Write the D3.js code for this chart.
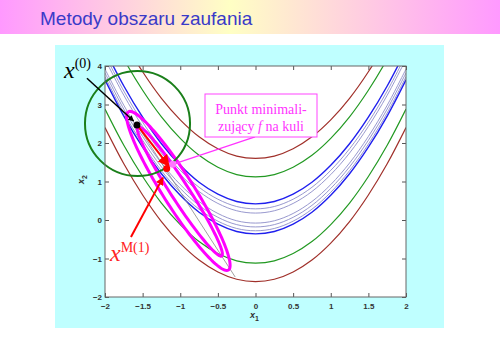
<!DOCTYPE html>
<html>
<head>
<meta charset="utf-8">
<script src="https://cdn.jsdelivr.net/npm/d3@7"></script>
<style>
  body { margin: 0; background: #fff; }
  svg { display: block; }
</style>
</head>
<body>
<div id="chart"></div>
<script>
// grid of x1 values the contour lines were read at
var x1Grid = [-2, -1.75, -1.5, -1.25, -1, -0.75, -0.5, -0.25, 0, 0.25, 0.5, 0.75, 1, 1.25, 1.5, 1.75, 2];

// contour lines, x2 value at each x1 of the grid
var brownTop   = [5.6, 4.66, 3.85, 3.16, 2.6, 2.16, 1.85, 1.66, 1.6, 1.66, 1.85, 2.16, 2.6, 3.16, 3.85, 4.66, 5.6];
var greenTop   = [5.12, 4.18, 3.37, 2.68, 2.12, 1.68, 1.37, 1.18, 1.12, 1.18, 1.37, 1.68, 2.12, 2.68, 3.37, 4.18, 5.12];
var blueTop    = [4.42, 3.48, 2.67, 1.98, 1.42, 0.98, 0.67, 0.48, 0.42, 0.48, 0.67, 0.98, 1.42, 1.98, 2.67, 3.48, 4.42];
var thin1      = [4.29, 3.35, 2.54, 1.85, 1.29, 0.85, 0.54, 0.35, 0.29, 0.35, 0.54, 0.85, 1.29, 1.85, 2.54, 3.35, 4.29];
var thin2      = [4.18, 3.24, 2.43, 1.74, 1.18, 0.74, 0.43, 0.24, 0.18, 0.24, 0.43, 0.74, 1.18, 1.74, 2.43, 3.24, 4.18];
var thin3      = [3.92, 2.98, 2.17, 1.48, 0.92, 0.48, 0.17, -0.02, -0.08, -0.02, 0.17, 0.48, 0.92, 1.48, 2.17, 2.98, 3.92];
var thin4      = [3.82, 2.88, 2.07, 1.38, 0.82, 0.38, 0.07, -0.12, -0.18, -0.12, 0.07, 0.38, 0.82, 1.38, 2.07, 2.88, 3.82];
var thin5      = [3.72, 2.78, 1.97, 1.28, 0.72, 0.28, -0.03, -0.22, -0.28, -0.22, -0.03, 0.28, 0.72, 1.28, 1.97, 2.78, 3.72];
var blueBot    = [3.64, 2.70, 1.89, 1.20, 0.64, 0.20, -0.11, -0.30, -0.36, -0.30, -0.11, 0.20, 0.64, 1.20, 1.89, 2.70, 3.64];
var greenBot   = [2.88, 1.94, 1.13, 0.44, -0.12, -0.56, -0.87, -1.06, -1.12, -1.06, -0.87, -0.56, -0.12, 0.44, 1.13, 1.94, 2.88];
var brownBot   = [2.4, 1.46, 0.65, -0.04, -0.6, -1.04, -1.35, -1.54, -1.6, -1.54, -1.35, -1.04, -0.6, -0.04, 0.65, 1.46, 2.4];

var xTicks = [-2, -1.5, -1, -0.5, 0, 0.5, 1, 1.5, 2];
var yTicks = [-2, -1, 0, 1, 2, 3, 4];

// points (x1, x2)
var x0 = [-1.575, 2.47];        // starting point x(0)
var xM1 = [-1.18, 1.34];        // model step point
var xBall = [-1.10, 1.45];      // minimiser of f on the ball
var gridLine = [[-1.575, 2.47], [-0.27, -1.48]];

// trust region ball: centre, radius along x1 and x2
var ballCentre = [-1.568, 2.506];
var ballRadius = [0.698, 1.364];

// model contours: centre, major half axis vector, minor half axis vector
var ellipses = [
  { c: [-1.025, 0.755], u: [-0.665, 2.055], v: [0.175, 0.215] },
  { c: [-1.005, 0.74],  u: [-0.556, 1.675], v: [0.101, 0.125] }
];

var contours = [
  { v: brownTop, color: "#a0302a", w: 1.2 },
  { v: brownBot, color: "#a0302a", w: 1.2 },
  { v: greenTop, color: "#229922", w: 1.2 },
  { v: greenBot, color: "#229922", w: 1.2 },
  { v: thin1, color: "#8c8cc8", w: 0.9 },
  { v: thin2, color: "#8c8cc8", w: 0.9 },
  { v: thin3, color: "#8c8cc8", w: 0.9 },
  { v: thin4, color: "#8c8cc8", w: 0.9 },
  { v: thin5, color: "#8c8cc8", w: 0.9 },
  { v: blueTop, color: "#1f1fee", w: 1.4 },
  { v: blueBot, color: "#1f1fee", w: 1.4 }
];

var W = 500, H = 352;
var svg = d3.select("#chart").append("svg").attr("width", W).attr("height", H);

// title band
var grad = svg.append("defs").append("linearGradient").attr("id", "band");
grad.append("stop").attr("offset", "0%").attr("stop-color", "#ff99ff");
grad.append("stop").attr("offset", "46%").attr("stop-color", "#ffffc4");
grad.append("stop").attr("offset", "100%").attr("stop-color", "#ff99ff");
svg.append("rect").attr("x", 0).attr("y", 0).attr("width", W).attr("height", 34)
  .style("fill", "url(#band)");
svg.append("text").attr("x", 40).attr("y", 25)
  .style("font-family", "Arial, 'Liberation Sans', sans-serif").style("font-size", "19px")
  .style("fill", "#3a3ac8").text("Metody obszaru zaufania");

// cyan panel
svg.append("rect").attr("x", 55).attr("y", 45).attr("width", 389).attr("height", 283)
  .style("fill", "#bfffff");

var margin = { left: 105, top: 66, right: 406, bottom: 297 };
var x = d3.scaleLinear().domain([-2, 2]).range([margin.left, margin.right]);
var y = d3.scaleLinear().domain([-2, 4]).range([margin.bottom, margin.top]);

svg.append("rect").attr("x", margin.left).attr("y", margin.top)
  .attr("width", margin.right - margin.left).attr("height", margin.bottom - margin.top)
  .style("fill", "#fff");

svg.append("clipPath").attr("id", "clip").append("rect")
  .attr("x", margin.left).attr("y", margin.top)
  .attr("width", margin.right - margin.left).attr("height", margin.bottom - margin.top);

var plot = svg.append("g").attr("clip-path", "url(#clip)");

var line = d3.line().x(d => x(d[0])).y(d => y(d[1])).curve(d3.curveCatmullRom);

plot.selectAll(".contour").data(contours).enter().append("path")
  .attr("d", d => line(x1Grid.map((a, i) => [a, d.v[i]])))
  .style("fill", "none").style("stroke", d => d.color).style("stroke-width", d => d.w);

// grey line through the model contours
plot.append("path").attr("d", d3.line().x(d => x(d[0])).y(d => y(d[1]))(gridLine))
  .style("stroke", "#888").style("stroke-width", 0.8).style("fill", "none");

// model ellipses
var ts = d3.range(0, 2 * Math.PI + 0.01, Math.PI / 60);
plot.selectAll(".ell").data(ellipses).enter().append("path")
  .attr("d", e => d3.line().x(d => x(d[0])).y(d => y(d[1]))(ts.map(t =>
     [e.c[0] + e.u[0] * Math.cos(t) + e.v[0] * Math.sin(t),
      e.c[1] + e.u[1] * Math.cos(t) + e.v[1] * Math.sin(t)])))
  .style("fill", "none").style("stroke", "#ff00ff").style("stroke-width", 3);

// trust region circle
svg.append("ellipse").attr("cx", x(ballCentre[0])).attr("cy", y(ballCentre[1]))
  .attr("rx", x(ballRadius[0]) - x(0)).attr("ry", y(0) - y(ballRadius[1]))
  .style("fill", "none").style("stroke", "#1a7f1a").style("stroke-width", 2);

// axes, MATLAB style ticks inside the box
var axisFont = function(g) {
  g.selectAll("text").style("font-family", "Arial, 'Liberation Sans', sans-serif")
    .style("font-size", "8px").style("font-weight", "bold").style("fill", "#333");
  g.select(".domain").remove();
  g.selectAll("line").style("stroke", "#555");
};
svg.append("g").attr("transform", "translate(0," + margin.bottom + ")")
  .call(d3.axisBottom(x).tickValues(xTicks).tickSizeInner(-4).tickSizeOuter(0).tickPadding(6).tickFormat(d3.format("")))
  .call(axisFont);
svg.append("g").attr("transform", "translate(0," + margin.top + ")")
  .call(d3.axisTop(x).tickValues(xTicks).tickSizeInner(-4).tickSizeOuter(0).tickFormat(""))
  .call(axisFont);
svg.append("g").attr("transform", "translate(" + margin.left + ",0)")
  .call(d3.axisLeft(y).tickValues(yTicks).tickSizeInner(-4).tickSizeOuter(0).tickPadding(3).tickFormat(d3.format("")))
  .call(axisFont);
svg.append("g").attr("transform", "translate(" + margin.right + ",0)")
  .call(d3.axisRight(y).tickValues(yTicks).tickSizeInner(-4).tickSizeOuter(0).tickFormat(""))
  .call(axisFont);
svg.append("rect").attr("x", margin.left).attr("y", margin.top)
  .attr("width", margin.right - margin.left).attr("height", margin.bottom - margin.top)
  .style("fill", "none").style("stroke", "#666").style("stroke-width", 1);

// axis labels
var xl = svg.append("text").attr("x", 250).attr("y", 318)
  .style("font-family", "Arial, sans-serif").style("font-size", "9px").style("font-weight", "bold").style("fill", "#333");
xl.append("tspan").style("font-style", "italic").text("x");
xl.append("tspan").attr("dy", 3).style("font-size", "7px").text("1");
var yl = svg.append("text").attr("transform", "translate(84,184) rotate(-90)")
  .style("font-family", "Arial, sans-serif").style("font-size", "9px").style("font-weight", "bold").style("fill", "#333");
yl.append("tspan").style("font-style", "italic").text("x");
yl.append("tspan").attr("dy", 3).style("font-size", "7px").text("2");

// arrows
var defs = svg.select("defs");
function marker(id, color, size) {
  defs.append("marker").attr("id", id).attr("viewBox", "0 0 10 10").attr("refX", 9).attr("refY", 5)
    .attr("markerWidth", size).attr("markerHeight", size).attr("orient", "auto")
    .append("path").attr("d", "M0,0 L10,5 L0,10 z").style("fill", color);
}
marker("mBlack", "#000", 4);
marker("mRed", "#ff0000", 4);
marker("mRedBig", "#ff0000", 6);
marker("mPink", "#ff33ff", 4);

function arrow(p, q, color, w, m) {
  svg.append("line").attr("x1", x(p[0])).attr("y1", y(p[1])).attr("x2", x(q[0])).attr("y2", y(q[1]))
    .style("stroke", color).style("stroke-width", w).attr("marker-end", "url(#" + m + ")");
}
arrow([-2.24, 3.68], [-1.62, 2.57], "#000", 1.5, "mBlack");
arrow(x0, [xM1[0] + 0.03, xM1[1] + 0.06], "#ff0000", 2, "mRedBig");
arrow([-1.655, -0.44], [-1.23, 1.1], "#ff0000", 2, "mRed");
arrow([-0.007, 2.16], [xBall[0] + 0.04, xBall[1] + 0.02], "#ff33ff", 1.2, "mPink");

// points
svg.append("circle").attr("cx", x(x0[0])).attr("cy", y(x0[1])).attr("r", 3.5).style("fill", "#000");
svg.append("circle").attr("cx", x(xM1[0])).attr("cy", y(xM1[1])).attr("r", 3.5).style("fill", "#ff0000");
svg.append("circle").attr("cx", x(xBall[0])).attr("cy", y(xBall[1])).attr("r", 3.5).style("fill", "#ff77ff");

// callout box
svg.append("rect").attr("x", 205).attr("y", 94).attr("width", 112).attr("height", 43)
  .style("fill", "#fff").style("stroke", "#ff44ff").style("stroke-width", 1);
var serif = "'Liberation Serif', 'DejaVu Serif', serif";
svg.append("text").attr("x", 261).attr("y", 114).attr("text-anchor", "middle")
  .style("font-family", serif).style("font-size", "14px").style("fill", "#ff33ff").text("Punkt minimali-");
var t2 = svg.append("text").attr("x", 261).attr("y", 131).attr("text-anchor", "middle")
  .style("font-family", serif).style("font-size", "14px").style("fill", "#ff33ff");
t2.append("tspan").text("zujący ");
t2.append("tspan").style("font-style", "italic").text("f");
t2.append("tspan").text(" na kuli");

// point labels
var l0 = svg.append("text").attr("x", 64).attr("y", 78).style("font-family", serif).style("fill", "#000");
l0.append("tspan").style("font-style", "italic").style("font-size", "24px").text("x");
l0.append("tspan").attr("dy", -10).style("font-size", "14px").text("(0)");
var l1 = svg.append("text").attr("x", 110).attr("y", 261).style("font-family", serif).style("fill", "#ff2222");
l1.append("tspan").style("font-style", "italic").style("font-size", "24px").text("x");
l1.append("tspan").attr("dy", -9).style("font-size", "14px").text("M(1)");
</script>
</body>
</html>
